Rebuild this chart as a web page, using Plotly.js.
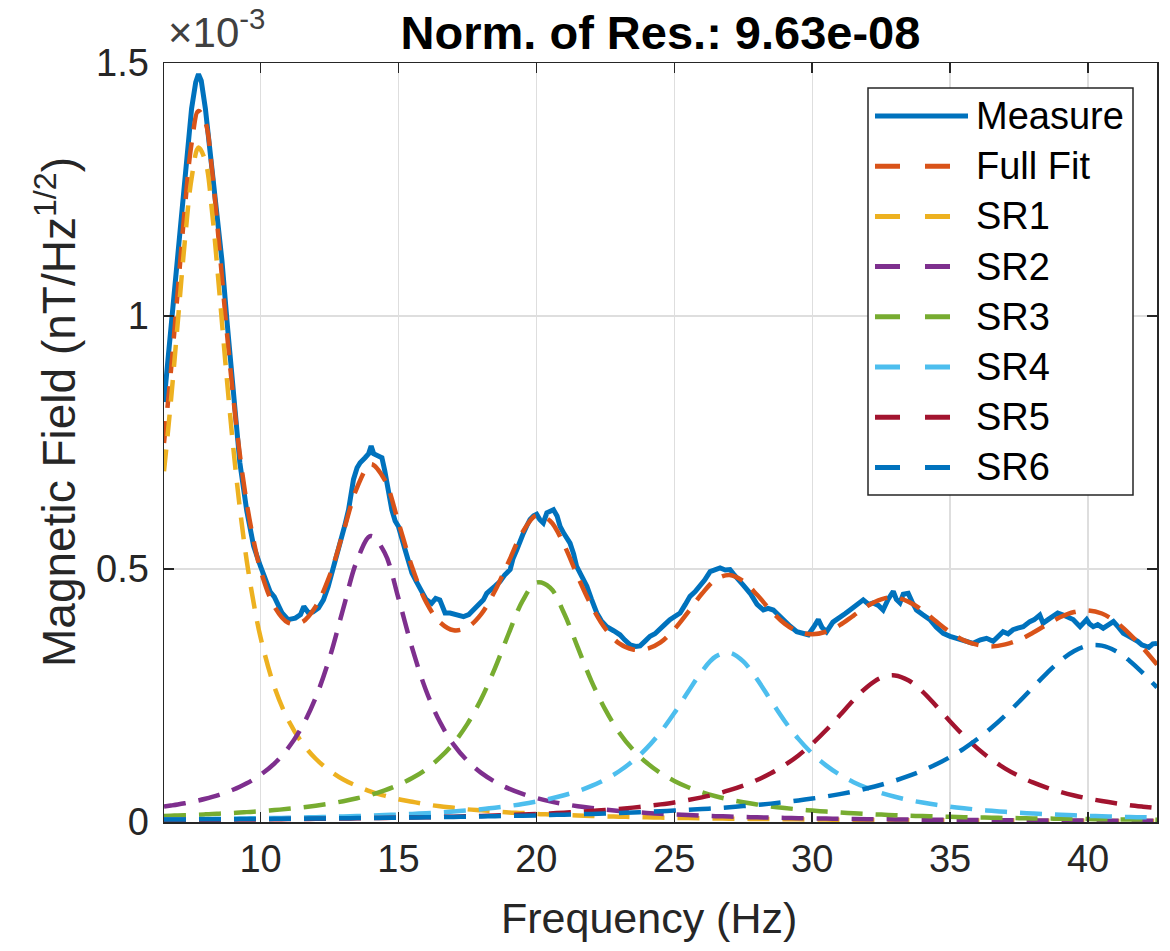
<!DOCTYPE html>
<html>
<head>
<meta charset="utf-8">
<script src="https://cdn.plot.ly/plotly-3.0.1.min.js"></script>
<style>
  html, body { margin: 0; padding: 0; background: #ffffff; }
  #chart { width: 1170px; height: 951px; }
</style>
</head>
<body>
<div id="chart"></div>
<script>
// Schumann resonance spectrum: measured amplitude, total Lorentzian fit and its six modes.
// All amplitudes are in units of 1e-3 nT/Hz^(1/2) (the axis carries the x10^-3 multiplier).

// Frequency grid of the fitted curves (Hz)
const freqFit = [
  6.5, 6.75, 7, 7.25, 7.5, 7.75, 8, 8.25, 8.5, 8.75, 9, 9.25, 9.5, 9.75, 10,
  10.5, 11, 11.5, 12, 12.5, 13, 13.5, 14,
  14.5, 15, 15.5, 16, 16.5, 17, 17.5, 18,
  18.5, 19, 19.5, 20, 20.5, 21, 21.5, 22,
  22.5, 23, 23.5, 24, 24.5, 25, 25.5, 26,
  26.5, 27, 27.5, 28, 28.5, 29, 29.5, 30,
  30.5, 31, 31.5, 32, 32.5, 33, 33.5, 34,
  34.5, 35, 35.5, 36, 36.5, 37, 37.5, 38,
  38.5, 39, 39.5, 40, 40.5, 41, 41.5, 42,
  42.5
];

const fullFit = [
  0.749, 0.891, 1.050, 1.210, 1.341, 1.405, 1.383, 1.283, 1.139, 0.985, 0.845, 0.726, 0.630, 0.556, 0.498,
  0.426, 0.394, 0.395, 0.426, 0.486, 0.573, 0.661, 0.707,
  0.676, 0.592, 0.503, 0.435, 0.395, 0.379, 0.385, 0.411,
  0.457, 0.515, 0.573, 0.606, 0.595, 0.548, 0.485, 0.427,
  0.382, 0.353, 0.341, 0.342, 0.355, 0.381, 0.415, 0.451,
  0.479, 0.488, 0.476, 0.449, 0.418, 0.392, 0.376, 0.371,
  0.376, 0.389, 0.408, 0.427, 0.440, 0.444, 0.435, 0.418,
  0.396, 0.375, 0.359, 0.350, 0.347, 0.351, 0.360, 0.374,
  0.390, 0.405, 0.415, 0.418, 0.412, 0.396, 0.372, 0.343,
  0.311
];

const sr1 = [
  0.693, 0.832, 0.988, 1.145, 1.272, 1.333, 1.306, 1.202, 1.052, 0.893, 0.746, 0.620, 0.516, 0.433, 0.365,
  0.267, 0.202, 0.157, 0.125, 0.102, 0.084, 0.071, 0.060,
  0.052, 0.045, 0.040, 0.035, 0.031, 0.028, 0.025, 0.023,
  0.021, 0.019, 0.018, 0.016, 0.015, 0.014, 0.013, 0.012,
  0.011, 0.0105, 0.0098, 0.0092, 0.0087, 0.0082, 0.0077, 0.0073,
  0.0069, 0.0066, 0.0063, 0.0059, 0.0057, 0.0054, 0.0052, 0.0049,
  0.0047, 0.0045, 0.0043, 0.0041, 0.0040, 0.0038, 0.0037, 0.0035,
  0.0034, 0.0033, 0.0032, 0.0031, 0.0030, 0.0029, 0.0028, 0.0027,
  0.0026, 0.0025, 0.0024, 0.0023, 0.0023, 0.0022, 0.0021, 0.0021,
  0.0020
];

const sr2 = [
  0.0304, 0.0325, 0.0346, 0.037, 0.0397, 0.0426, 0.0459, 0.0496, 0.0538, 0.0585, 0.0637, 0.0697, 0.0764, 0.0843, 0.0932,
  0.1155, 0.146, 0.188, 0.246, 0.324, 0.422, 0.517, 0.565,
  0.532, 0.442, 0.343, 0.260, 0.198, 0.153, 0.121, 0.097,
  0.0795, 0.066, 0.0556, 0.0474, 0.0408, 0.0355, 0.0312, 0.0276,
  0.0245, 0.0219, 0.0198, 0.0179, 0.0163, 0.0149, 0.0136, 0.0125,
  0.0116, 0.0107, 0.0099, 0.0092, 0.0086, 0.0081, 0.0076, 0.0071,
  0.0067, 0.0063, 0.0059, 0.0056, 0.0053, 0.0051, 0.0048, 0.0046,
  0.0044, 0.0042, 0.0040, 0.0038, 0.0036, 0.0035, 0.0033, 0.0032,
  0.0031, 0.0029, 0.0028, 0.0027, 0.0026, 0.0025, 0.0024, 0.0023,
  0.0023
];

const sr3 = [
  0.0120, 0.0124, 0.0129, 0.0134, 0.0139, 0.0145, 0.0151, 0.0157, 0.0164, 0.0171, 0.0178, 0.0186, 0.0195, 0.0204, 0.0213,
  0.0235, 0.0260, 0.0289, 0.0323, 0.0363, 0.0411, 0.0470, 0.0539,
  0.0625, 0.0733, 0.0868, 0.104, 0.127, 0.156, 0.194, 0.243,
  0.304, 0.373, 0.437, 0.473, 0.463, 0.413, 0.345, 0.278,
  0.222, 0.177, 0.143, 0.117, 0.0967, 0.0811, 0.0687, 0.0589,
  0.0509, 0.0444, 0.0391, 0.0346, 0.0308, 0.0276, 0.0249, 0.0226,
  0.0206, 0.0188, 0.0172, 0.0158, 0.0146, 0.0135, 0.0125, 0.0117,
  0.0109, 0.0102, 0.0096, 0.0090, 0.0085, 0.0080, 0.0076, 0.0071,
  0.0068, 0.0064, 0.0061, 0.0058, 0.0055, 0.0052, 0.0050, 0.0048,
  0.0046
];

const sr4 = [
  0.0052, 0.0053, 0.0054, 0.0056, 0.0057, 0.0058, 0.0060, 0.0061, 0.0063, 0.0065, 0.0067, 0.0069, 0.0071, 0.0073, 0.0075,
  0.0079, 0.0084, 0.0089, 0.0095, 0.0102, 0.0109, 0.0117, 0.0126,
  0.0136, 0.0147, 0.0160, 0.0174, 0.0190, 0.0208, 0.0229, 0.0254,
  0.0282, 0.0316, 0.0355, 0.0403, 0.0459, 0.0528, 0.0610, 0.0714,
  0.0842, 0.1003, 0.1206, 0.146, 0.1776, 0.2154, 0.2574, 0.2979,
  0.3270, 0.3345, 0.3174, 0.2824, 0.2403, 0.1996, 0.1642, 0.1352,
  0.1119, 0.0934, 0.0787, 0.0670, 0.0575, 0.0498, 0.0435, 0.0384,
  0.0339, 0.0302, 0.0271, 0.0244, 0.0221, 0.0201, 0.0183, 0.0168,
  0.0154, 0.0143, 0.0132, 0.0122, 0.0114, 0.0106, 0.0099, 0.0093,
  0.0087
];

const sr5 = [
  0.0039, 0.0040, 0.0041, 0.0042, 0.0043, 0.0043, 0.0044, 0.0045, 0.0046, 0.0047, 0.0048, 0.0049, 0.0050, 0.0051, 0.0052,
  0.0055, 0.0057, 0.0060, 0.0063, 0.0065, 0.0069, 0.0072, 0.0076,
  0.0080, 0.0085, 0.0089, 0.0094, 0.0100, 0.0106, 0.0113, 0.0120,
  0.0128, 0.0137, 0.0147, 0.0158, 0.0170, 0.0184, 0.0200, 0.0217,
  0.0237, 0.0259, 0.0284, 0.0314, 0.0348, 0.0387, 0.0433, 0.0487,
  0.0551, 0.0628, 0.0719, 0.0829, 0.0963, 0.1123, 0.1316, 0.1547,
  0.1813, 0.2108, 0.2409, 0.2675, 0.2853, 0.2897, 0.2795, 0.2576,
  0.2290, 0.1988, 0.1703, 0.1450, 0.1235, 0.1055, 0.0906, 0.0782,
  0.0680, 0.0595, 0.0524, 0.0464, 0.0414, 0.0371, 0.0333, 0.0302,
  0.0274
];

const sr6 = [
  0.0048, 0.0049, 0.0050, 0.0051, 0.0051, 0.0052, 0.0053, 0.0054, 0.0055, 0.0056, 0.0056, 0.0057, 0.0058, 0.0059, 0.0060,
  0.0062, 0.0064, 0.0066, 0.0069, 0.0071, 0.0074, 0.0077, 0.0079,
  0.0083, 0.0086, 0.0089, 0.0093, 0.0097, 0.0101, 0.0105, 0.0110,
  0.0115, 0.0120, 0.0125, 0.0131, 0.0138, 0.0145, 0.0152, 0.0160,
  0.0169, 0.0179, 0.0189, 0.0200, 0.0212, 0.0225, 0.0240, 0.0256,
  0.0273, 0.0292, 0.0314, 0.0337, 0.0363, 0.0393, 0.0426, 0.0463,
  0.0504, 0.0551, 0.0605, 0.0666, 0.0736, 0.0817, 0.0910, 0.1017,
  0.1141, 0.1285, 0.1452, 0.1644, 0.1863, 0.2108, 0.2377, 0.2659,
  0.2938, 0.3189, 0.3381, 0.3486, 0.3486, 0.3381, 0.3189, 0.2938,
  0.2659
];

// Measured spectrum (Hz, amplitude)
const freqMeas = [
  6.5, 6.75, 7.0, 7.25, 7.5, 7.65, 7.75, 7.85, 8.0, 8.2, 8.4, 8.6, 8.8, 9.0, 9.25, 9.5, 9.75,
  10.0, 10.17, 10.35, 10.5, 10.65, 10.78, 11.0, 11.26, 11.45, 11.57, 11.74, 11.9, 12.1, 12.28,
  12.45, 12.59, 12.75, 12.89, 13.05, 13.19, 13.37, 13.5, 13.61, 13.79, 13.92, 14.01, 14.1, 14.25,
  14.4, 14.5, 14.58, 14.76, 14.88, 15.0, 15.24, 15.49, 15.65, 15.79, 16.0, 16.2, 16.35, 16.5,
  16.69, 16.87, 17.1, 17.36, 17.55, 17.72, 17.9, 18.08, 18.2, 18.32, 18.5, 18.68, 18.85, 19.05,
  19.15, 19.29, 19.4, 19.53, 19.65, 19.77, 19.9, 20.01, 20.12, 20.25, 20.38, 20.5, 20.62, 20.75,
  20.86, 21.0, 21.22, 21.35, 21.46, 21.65, 21.83, 22.0, 22.19, 22.35, 22.55, 22.8, 23.03, 23.2,
  23.4, 23.6, 23.76, 23.95, 24.12, 24.3, 24.48, 24.65, 24.84, 25.0, 25.21, 25.4, 25.57, 25.75,
  25.93, 26.1, 26.3, 26.45, 26.66, 26.85, 27.02, 27.15, 27.26, 27.5, 27.75, 28.0, 28.23, 28.4,
  28.59, 28.75, 28.96, 29.2, 29.44, 29.65, 29.86, 30.05, 30.22, 30.35, 30.52, 30.75, 31.0, 31.2,
  31.37, 31.6, 31.85, 32.05, 32.21, 32.4, 32.57, 32.75, 32.94, 33.05, 33.18, 33.3, 33.48, 33.62,
  33.78, 34.0, 34.27, 34.5, 34.75, 35.0, 35.23, 35.5, 35.83, 36.1, 36.32, 36.56, 36.75, 36.92,
  37.1, 37.28, 37.45, 37.65, 37.89, 38.05, 38.25, 38.37, 38.55, 38.74, 38.9, 39.1, 39.3, 39.46,
  39.71, 39.85, 39.95, 40.05, 40.19, 40.35, 40.55, 40.75, 40.92, 41.1, 41.28, 41.45, 41.64, 41.8,
  41.95, 42.2, 42.35, 42.5
];

const measure = [
  0.83, 0.975, 1.10, 1.26, 1.41, 1.462, 1.478, 1.465, 1.41, 1.31, 1.21, 1.11, 0.98, 0.86, 0.71, 0.615, 0.545,
  0.505, 0.483, 0.455, 0.445, 0.43, 0.413, 0.40, 0.403, 0.41, 0.426, 0.413, 0.415, 0.423, 0.439,
  0.465, 0.492, 0.52, 0.551, 0.585, 0.617, 0.677, 0.70, 0.710, 0.720, 0.728, 0.743, 0.728, 0.724,
  0.720, 0.695, 0.670, 0.617, 0.595, 0.584, 0.538, 0.492, 0.475, 0.459, 0.44, 0.432, 0.442, 0.439,
  0.413, 0.413, 0.41, 0.406, 0.410, 0.419, 0.43, 0.439, 0.452, 0.459, 0.466, 0.475, 0.488, 0.499,
  0.52, 0.538, 0.555, 0.571, 0.585, 0.598, 0.605, 0.608, 0.598, 0.591, 0.611, 0.615, 0.617, 0.605,
  0.584, 0.57, 0.551, 0.53, 0.505, 0.485, 0.466, 0.44, 0.413, 0.398, 0.386, 0.378, 0.370, 0.36,
  0.350, 0.347, 0.348, 0.358, 0.367, 0.372, 0.380, 0.39, 0.400, 0.405, 0.413, 0.43, 0.446, 0.455,
  0.466, 0.478, 0.495, 0.499, 0.502, 0.498, 0.499, 0.49, 0.482, 0.468, 0.452, 0.43, 0.419, 0.422,
  0.419, 0.41, 0.400, 0.387, 0.376, 0.372, 0.370, 0.385, 0.400, 0.385, 0.376, 0.395, 0.406, 0.412,
  0.419, 0.428, 0.439, 0.43, 0.433, 0.428, 0.419, 0.44, 0.456, 0.44, 0.433, 0.45, 0.452, 0.435,
  0.419, 0.41, 0.400, 0.385, 0.373, 0.367, 0.363, 0.360, 0.353, 0.360, 0.363, 0.357, 0.368, 0.376,
  0.372, 0.380, 0.383, 0.386, 0.396, 0.40, 0.409, 0.393, 0.40, 0.406, 0.413, 0.409, 0.405, 0.400,
  0.386, 0.395, 0.400, 0.392, 0.386, 0.39, 0.383, 0.39, 0.396, 0.385, 0.373, 0.368, 0.363, 0.357,
  0.350, 0.345, 0.352, 0.353
];

const seriesNames = ['Measure', 'Full Fit', 'SR1', 'SR2', 'SR3', 'SR4', 'SR5', 'SR6'];
const seriesColors = ['#0072BD', '#D95319', '#EDB120', '#7E2F8E', '#77AC30', '#4DBEEE', '#A2142F', '#0072BD'];
const fitSeries = [fullFit, sr1, sr2, sr3, sr4, sr5, sr6];

const FONT = '"Liberation Sans", Arial, Helvetica, sans-serif';
const AXIS_COLOR = '#262626';
const DASH = '22px,13px';
const LINE_W = 4.5;

const traces = [{
  type: 'scatter', mode: 'lines', name: seriesNames[0],
  x: freqMeas, y: measure,
  line: { color: seriesColors[0], width: 5 },
  showlegend: false, hoverinfo: 'x+y'
}];
fitSeries.forEach((vals, i) => {
  traces.push({
    type: 'scatter', mode: 'lines', name: seriesNames[i + 1],
    x: freqFit, y: vals,
    line: { color: seriesColors[i + 1], width: LINE_W, dash: DASH, shape: 'spline', smoothing: 1 },
    showlegend: false, hoverinfo: 'x+y'
  });
});

// Plot-area geometry (pixels) used for the hand-built legend box
const M = { l: 164, r: 13, t: 63, b: 129 };
const PW = 1170 - M.l - M.r, PH = 951 - M.t - M.b;
const px = v => (v - M.l) / PW;          // page x (px) -> paper x
const py = v => (951 - M.b - v) / PH;    // page y (px) -> paper y

const shapes = [{
  type: 'rect', xref: 'paper', yref: 'paper',
  x0: px(868), x1: px(1133), y0: py(495), y1: py(88),
  fillcolor: '#ffffff', line: { color: AXIS_COLOR, width: 1.5 }, layer: 'above'
}];
const annotations = [];
seriesNames.forEach((name, i) => {
  const yRow = py(116 + 50.2 * i);
  shapes.push({
    type: 'line', xref: 'paper', yref: 'paper',
    x0: px(875), x1: px(968), y0: yRow, y1: yRow, layer: 'above',
    line: { color: seriesColors[i], width: 5, dash: i === 0 ? 'solid' : '25px,25px' }
  });
  annotations.push({
    xref: 'paper', yref: 'paper', x: px(974), y: yRow, xanchor: 'left', yanchor: 'middle',
    text: name, showarrow: false, font: { family: FONT, size: 38, color: '#000000' }
  });
});

// Axis titles and exponent multiplier
annotations.push({
  xref: 'paper', yref: 'paper', x: px(649), y: py(918), xanchor: 'center', yanchor: 'middle',
  text: 'Frequency (Hz)', showarrow: false, font: { family: FONT, size: 43, color: AXIS_COLOR }
});
annotations.push({
  xref: 'paper', yref: 'paper', x: px(56), y: py(412), xanchor: 'center', yanchor: 'middle',
  textangle: -90, text: 'Magnetic Field (nT/Hz<sup>1/2</sup>)', showarrow: false,
  font: { family: FONT, size: 46, color: AXIS_COLOR }
});
annotations.push({
  xref: 'paper', yref: 'paper', x: px(166), y: py(58), xanchor: 'left', yanchor: 'bottom',
  text: '\u00d710<sup>-3</sup>', showarrow: false, font: { family: FONT, size: 42, color: '#404040' }
});

const axisCommon = {
  ticks: 'inside', ticklen: 10, tickwidth: 1.5, tickcolor: AXIS_COLOR,
  showline: true, linecolor: AXIS_COLOR, linewidth: 1.5, mirror: 'ticks',
  showgrid: true, gridcolor: '#dedede', gridwidth: 1.3, zeroline: false,
  tickfont: { family: FONT, size: 38, color: AXIS_COLOR },
  automargin: false, fixedrange: true
};

const layout = {
  width: 1170, height: 951,
  margin: M,
  paper_bgcolor: '#ffffff', plot_bgcolor: '#ffffff',
  font: { family: FONT, color: AXIS_COLOR },
  showlegend: false,
  title: {
    text: '<b>Norm. of Res.: 9.63e-08</b>',
    font: { family: FONT, size: 47, color: '#000000' },
    xref: 'paper', x: 0.5, xanchor: 'center',
    yref: 'container', y: 1 - 33 / 951, yanchor: 'middle'
  },
  xaxis: Object.assign({}, axisCommon, {
    range: [6.5, 42.5], tickvals: [10, 15, 20, 25, 30, 35, 40], ticklabelstandoff: 3
  }),
  yaxis: Object.assign({}, axisCommon, {
    range: [0, 1.5], tickvals: [0, 0.5, 1, 1.5], ticktext: ['0', '0.5', '1', '1.5'], ticklabelstandoff: 6
  }),
  shapes: shapes,
  annotations: annotations
};

Plotly.newPlot('chart', traces, layout, { staticPlot: true, displayModeBar: false });
</script>
</body>
</html>
